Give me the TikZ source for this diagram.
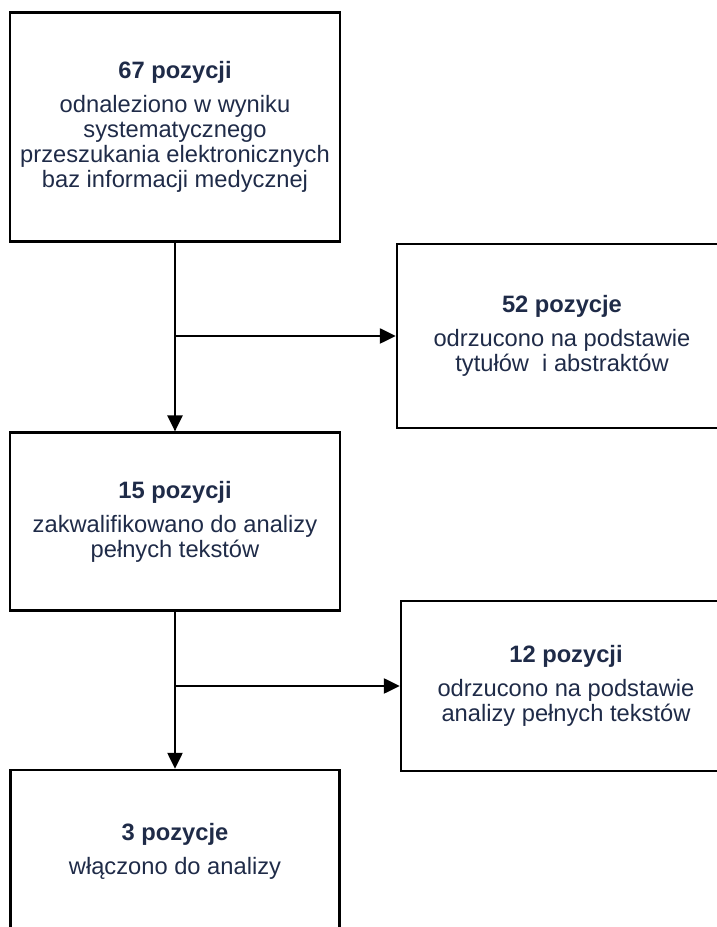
\documentclass[tikz,border=0pt]{standalone}
\usepackage{fontspec}
\setmainfont{Liberation Sans}
\usetikzlibrary{arrows.meta}
\definecolor{txtnavy}{RGB}{31,43,72}
\begin{document}
\begin{tikzpicture}[x=1pt,y=1pt,
  flowbox/.style={draw=black, line width=2.4pt, rectangle, align=center,
    text=txtnavy, font=\fontsize{23.7}{25}\selectfont, inner sep=0pt},
  conn/.style={draw=black, line width=2.4pt, -{Triangle[length=16pt,width=15pt]}}]
\clip (0,0) rectangle (717,927);
\useasboundingbox (0,0) rectangle (717,927);
\node[flowbox, minimum width=330, minimum height=229] (b1) at (175,800)
  {\textbf{67 pozycji}\\[9pt]odnaleziono w wyniku\\systematycznego\\przeszukania elektronicznych\\baz informacji medycznej};
\node[flowbox, minimum width=330, minimum height=184] (b2) at (562,591)
  {\textbf{52 pozycje}\\[9pt]odrzucono na podstawie\\tytułów~ i abstraktów};
\node[flowbox, minimum width=330, minimum height=178] (b3) at (175,405.4)
  {\textbf{15 pozycji}\\[9pt]zakwalifikowano do analizy\\pełnych tekstów};
\node[flowbox, minimum width=330, minimum height=170] (b4) at (566,241)
  {\textbf{12 pozycji}\\[9pt]odrzucono na podstawie\\analizy pełnych tekstów};
\node[flowbox, minimum width=329, minimum height=162] (b5) at (175,76)
  {\textbf{3 pozycje}\\[9pt]włączono do analizy};
\draw[conn] (b1.south) -- (b3.north);
\draw[conn] (b1.south |- b2.west) -- (b2.west);
\draw[conn] (b3.south) -- (b5.north);
\draw[conn] (b3.south |- b4.west) -- (b4.west);
\end{tikzpicture}
\end{document}
